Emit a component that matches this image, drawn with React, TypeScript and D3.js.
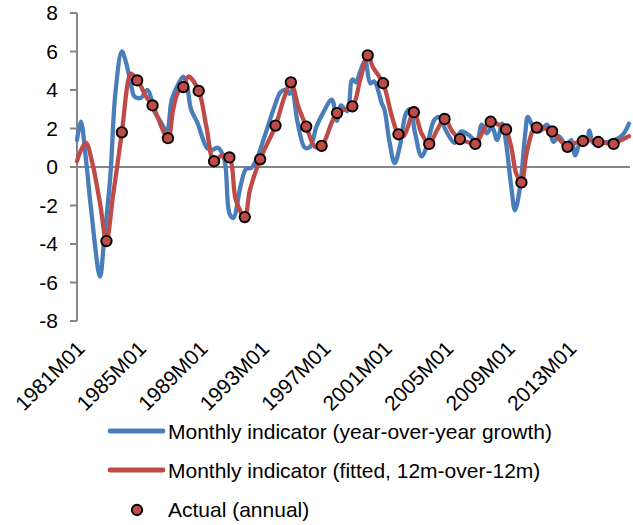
import React from "react";
import * as d3 from "d3";

// Monthly indicator (year-over-year growth) – values read at selected months
const blueDates = ["1981M01","1981M04","1981M08","1981M12","1982M07","1982M10","1983M03","1983M07","1983M12","1984M03","1984M07","1984M10","1985M03","1985M08","1986M02","1986M05","1986M11","1987M03","1987M08","1987M12","1988M03","1988M06","1988M11","1989M07","1989M11","1990M03","1990M08","1990M12","1991M03","1991M09","1992M01","1992M05","1992M09","1993M02","1993M06","1993M11","1994M04","1994M08","1994M11","1995M01","1995M05","1995M11","1996M03","1996M08","1997M01","1997M08","1997M12","1998M03","1998M08","1998M12","1999M03","1999M06","1999M10","2000M02","2000M05","2000M11","2001M01","2001M05","2001M09","2002M01","2002M06","2002M09","2003M01","2003M06","2003M10","2004M04","2004M08","2005M01","2005M08","2006M01","2006M08","2007M01","2007M05","2007M09","2008M01","2008M05","2008M09","2008M12","2009M04","2009M07","2009M11","2010M03","2010M05","2010M09","2011M02","2011M08","2012M01","2012M05","2012M11","2013M03","2013M06","2013M10","2014M03","2014M05","2014M08","2015M01","2015M08","2016M01","2016M06","2016M09","2016M12"];
const blueValues = [1.4,2.35,0.4,-2.2,-5.7,-3.9,-0.5,3.85,6.0,5.5,4.35,3.65,3.6,4.0,2.8,2.5,1.9,3.5,4.3,4.7,4.2,3.0,2.3,0.95,0.9,1.0,0.4,-2.4,-2.65,-0.9,-0.1,-0.05,0.35,1.3,2.1,3.1,3.9,4.0,3.8,4.0,2.4,1.0,1.05,2.1,2.8,3.5,2.4,3.2,2.9,4.55,4.4,4.95,5.5,4.35,4.45,3.3,3.0,1.3,0.2,1.05,2.8,3.0,1.75,0.55,1.05,2.45,2.6,1.9,1.25,1.85,1.6,1.25,2.2,1.75,2.1,1.4,2.25,1.25,-1.0,-2.25,-1.0,1.75,2.6,2.1,1.85,2.2,1.3,1.6,1.15,1.4,0.6,1.25,1.25,1.9,1.25,1.3,1.3,1.4,1.6,1.85,2.25];

// Monthly indicator (fitted, 12m-over-12m)
const redDates = ["1981M01","1981M04","1981M08","1982M01","1982M07","1982M12","1983M05","1983M12","1984M05","1984M07","1984M12","1985M07","1985M12","1986M12","1987M04","1987M08","1987M12","1988M04","1988M12","1989M06","1989M12","1990M06","1990M12","1991M05","1991M12","1992M04","1992M12","1993M12","1994M07","1994M12","1995M06","1995M12","1996M07","1996M12","1997M12","1998M12","1999M06","1999M12","2000M04","2000M12","2001M07","2001M12","2002M04","2002M12","2003M06","2003M12","2004M06","2004M12","2005M06","2005M12","2006M06","2006M12","2007M06","2007M12","2008M06","2008M12","2009M04","2009M08","2009M12","2010M04","2010M09","2010M12","2011M06","2011M12","2012M06","2012M12","2013M06","2013M12","2014M06","2014M12","2015M06","2015M12","2016M06","2016M12"];
const redValues = [0.3,0.85,1.25,0.2,-1.9,-3.85,-1.55,1.8,4.5,4.85,4.55,3.65,3.2,1.5,2.95,3.9,4.15,4.7,3.95,2.1,0.3,0.6,0.5,-1.7,-2.6,-1.2,0.4,2.15,3.65,4.4,3.1,2.1,1.05,1.1,2.8,3.15,4.5,5.8,5.2,4.35,2.6,1.7,1.6,2.85,1.75,1.2,1.9,2.5,1.85,1.45,1.3,1.2,1.85,2.4,2.2,1.9,1.05,-0.35,-0.8,0.7,1.9,2.05,2.0,1.85,1.4,1.05,1.25,1.35,1.4,1.3,1.25,1.2,1.4,1.6];

// Actual (annual), plotted at December of each year
const annualYears = d3.range(1982, 2016);
const annualValues = [-3.85,1.8,4.5,3.2,1.5,4.15,3.95,0.3,0.5,-2.6,0.4,2.15,4.4,2.1,1.1,2.8,3.15,5.8,4.35,1.7,2.85,1.2,2.5,1.45,1.2,2.35,1.95,-0.8,2.05,1.85,1.05,1.35,1.3,1.2];

const xTickLabels = ["1981M01","1985M01","1989M01","1993M01","1997M01","2001M01","2005M01","2009M01","2013M01"];
const yTicks = [-8,-6,-4,-2,0,2,4,6,8];
const legendLabels = [
  "Monthly indicator (year-over-year growth)",
  "Monthly indicator (fitted, 12m-over-12m)",
  "Actual (annual)",
];

const W = 633, H = 525;
const FONT = "'Liberation Sans', Arial, sans-serif";
const BLUE = "#4A7EBB";
const RED = "#BE4B48";
const AXIS = "#868686";

const monthIndex = (s: string) => {
  const y = +s.slice(0, 4);
  const m = +s.slice(5, 7);
  return (y - 1981) * 12 + (m - 1);
};

export default function App() {
  const x = d3.scaleLinear().domain([0, 431]).range([77, 629]);
  const y = d3.scaleLinear().domain([-8, 8]).range([321, 13]);
  const line = d3
    .line<[number, number]>()
    .x((d) => x(d[0]))
    .y((d) => y(d[1]))
    .curve(d3.curveCatmullRom.alpha(0.5));
  const blue: [number, number][] = blueDates.map((d, i) => [monthIndex(d), blueValues[i]]);
  const red: [number, number][] = redDates.map((d, i) => [monthIndex(d), redValues[i]]);
  const dots = annualYears.map((yr, i) => ({ m: monthIndex(`${yr}M12`), v: annualValues[i] }));

  return (
    <div style={{ position: "absolute", left: 0, top: 0 }}>
      <svg width={W} height={H} style={{ display: "block", background: "#fff" }} fontFamily={FONT}>
        {/* y axis */}
        <line x1={x(0)} x2={x(0)} y1={y(8)} y2={y(-8)} stroke={AXIS} strokeWidth={2} />
        {yTicks.map((t) => (
          <g key={t}>
            <line x1={x(0) - 7} x2={x(0)} y1={y(t)} y2={y(t)} stroke={AXIS} strokeWidth={2} />
            <text x={58} y={y(t) + 7} textAnchor="end" fontSize={21} fill="#000">
              {t}
            </text>
          </g>
        ))}
        {/* zero line (category axis) */}
        <line x1={x(0)} x2={630} y1={y(0)} y2={y(0)} stroke={AXIS} strokeWidth={2} />
        {/* x labels */}
        {xTickLabels.map((lab) => {
          const px = x(monthIndex(lab));
          return (
            <text
              key={lab}
              transform={`translate(${px + 9},350) rotate(-45)`}
              textAnchor="end"
              fontSize={21}
              fill="#000"
            >
              {lab}
            </text>
          );
        })}
        {/* series */}
        <path d={line(blue) || ""} fill="none" stroke={BLUE} strokeWidth={4.3} strokeLinejoin="round" strokeLinecap="round" />
        <path d={line(red) || ""} fill="none" stroke={RED} strokeWidth={4.3} strokeLinejoin="round" strokeLinecap="round" />
        {dots.map((d, i) => (
          <circle key={i} cx={x(d.m)} cy={y(d.v)} r={5.2} fill={RED} stroke="#000" strokeWidth={1.9} />
        ))}
        {/* legend */}
        <line x1={110} x2={163} y1={431} y2={431} stroke={BLUE} strokeWidth={4.8} strokeLinecap="round" />
        <text x={168} y={438.5} fontSize={21} fill="#000">{legendLabels[0]}</text>
        <line x1={110} x2={163} y1={470} y2={470} stroke={RED} strokeWidth={4.8} strokeLinecap="round" />
        <text x={168} y={477.5} fontSize={21} fill="#000">{legendLabels[1]}</text>
        <circle cx={137} cy={510} r={5.2} fill={RED} stroke="#000" strokeWidth={1.9} />
        <text x={168} y={517} fontSize={21} fill="#000">{legendLabels[2]}</text>
      </svg>
    </div>
  );
}
